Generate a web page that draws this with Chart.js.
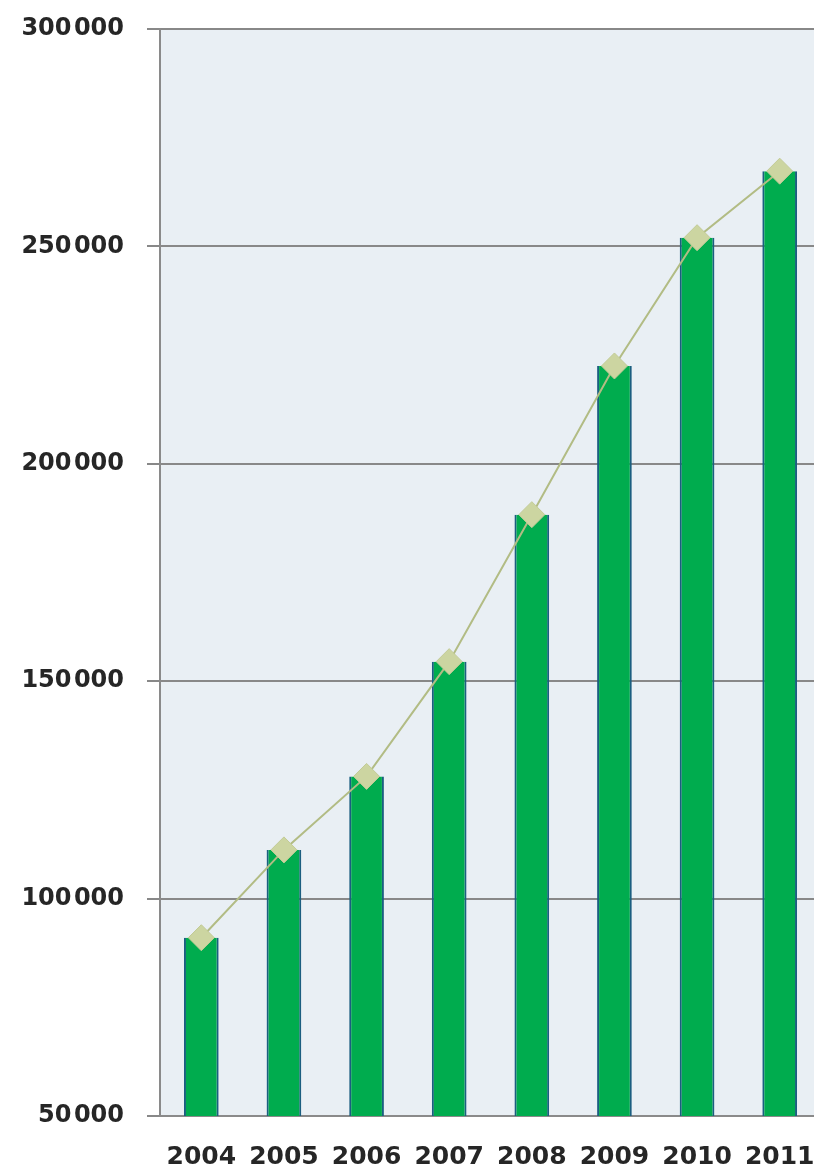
<!DOCTYPE html>
<html>
<head>
    <meta charset="UTF-8">
    <title>2004 - 2011</title>
    <script src="https://cdn.jsdelivr.net/npm/chart.js"></script>
    <style>
        html, body { margin: 0; padding: 0; background: #fff; overflow: hidden; }
        canvas { display: block; }
    </style>
</head>
<body>
    <canvas id="chart" width="821" height="1171"></canvas>

    <script>
        // datos
        const years = ['2004', '2005', '2006', '2007', '2008', '2009', '2010', '2011'];
        const barValues = [91000, 111200, 128100, 154500, 188300, 222500, 252000, 267300];
        const lineValues = [91000, 111200, 128100, 154500, 188300, 222500, 252000, 267300];
        const yTicks = [50000, 100000, 150000, 200000, 250000, 300000];

        function fmt(v) {
            const s = String(v);
            return s.slice(0, s.length - 3) + '\u200A' + s.slice(-3);
        }

        // fondo del area del grafico
        const plotBg = {
            id: 'plotBg',
            beforeDraw(chart) {
                const a = chart.chartArea;
                const ctx = chart.ctx;
                ctx.save();
                ctx.fillStyle = '#E9EFF4';
                ctx.fillRect(a.left, a.top, a.right - a.left, a.bottom - a.top);
                ctx.restore();
            }
        };

        new Chart(document.getElementById('chart'), {
            type: 'bar',
            data: {
                labels: years,
                datasets: [
                    {
                        type: 'line',
                        data: lineValues,
                        order: 0,
                        borderColor: '#B2BC84',
                        borderWidth: 2,
                        tension: 0,
                        clip: false,
                        pointStyle: 'rectRot',
                        pointRadius: 13,
                        pointBackgroundColor: '#CCD5A1',
                        pointBorderColor: '#C2CB95',
                        pointBorderWidth: 1
                    },
                    {
                        data: barValues,
                        order: 1,
                        backgroundColor: '#00AC4E',
                        borderColor: '#1B5E80',
                        borderWidth: { left: 2, right: 2, top: 0, bottom: 0 },
                        borderSkipped: false,
                        barPercentage: 0.42,
                        categoryPercentage: 1
                    }
                ]
            },
            options: {
                responsive: false,
                animation: false,
                layout: { autoPadding: false, padding: { top: 29, right: 0, left: 0, bottom: 0 } },
                plugins: {
                    legend: { display: false },
                    tooltip: { enabled: false }
                },
                scales: {
                    x: {
                        grid: { display: false, drawTicks: false },
                        border: { display: true, color: '#8A8A8A', width: 2 },
                        ticks: {
                            color: '#262626',
                            padding: 26,
                            font: { family: 'DejaVu Sans', size: 25, weight: 'bold' }
                        },
                        afterFit(scale) {
                            scale.height = 55;
                            scale.paddingLeft = 0;
                            scale.paddingRight = 0;
                        }
                    },
                    y: {
                        min: 50000,
                        max: 300000,
                        afterBuildTicks(scale) {
                            scale.ticks = yTicks.map(v => ({ value: v }));
                        },
                        grid: {
                            color: '#888888',
                            lineWidth: 2,
                            tickLength: 13,
                            tickColor: '#888888'
                        },
                        border: { display: true, color: '#8A8A8A', width: 2 },
                        ticks: {
                            color: '#262626',
                            padding: 23,
                            callback: v => fmt(v),
                            font: { family: 'DejaVu Sans', size: 24, weight: 'bold' }
                        },
                        afterFit(scale) {
                            scale.width = 160;
                            scale.paddingTop = 0;
                            scale.paddingBottom = 0;
                        }
                    }
                }
            },
            plugins: [plotBg]
        });
    </script>
</body>
</html>
